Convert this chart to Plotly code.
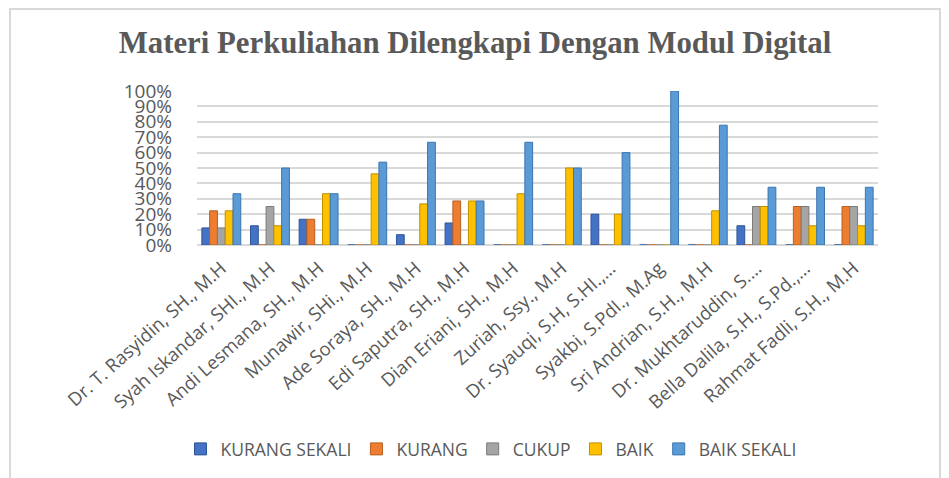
import plotly.graph_objects as go

categories = [
    "Dr. T. Rasyidin, SH., M.H",
    "Syah Iskandar, SHI., M.H",
    "Andi Lesmana, SH., M.H",
    "Munawir, SHi., M.H",
    "Ade Soraya, SH., M.H",
    "Edi Saputra, SH., M.H",
    "Dian Eriani, SH., M.H",
    "Zuriah, Ssy., M.H",
    "Dr. Syauqi, S.H, S.HI.,…",
    "Syakbi, S.PdI., M.Ag",
    "Sri Andrian, S.H., M.H",
    "Dr. Mukhtaruddin, S.…",
    "Bella Dalila, S.H., S.Pd.,…",
    "Rahmat Fadli, S.H., M.H",
]

kurang_sekali = [0.111, 0.125, 0.167, 0.0, 0.067, 0.143, 0.0, 0.0, 0.20, 0.0, 0.0, 0.125, 0.0, 0.0]
kurang        = [0.222, 0.0, 0.167, 0.0, 0.0, 0.286, 0.0, 0.0, 0.0, 0.0, 0.0, 0.0, 0.25, 0.25]
cukup         = [0.111, 0.25, 0.0, 0.0, 0.0, 0.0, 0.0, 0.0, 0.0, 0.0, 0.0, 0.25, 0.25, 0.25]
baik          = [0.222, 0.125, 0.333, 0.462, 0.267, 0.286, 0.333, 0.50, 0.20, 0.0, 0.222, 0.25, 0.125, 0.125]
baik_sekali   = [0.333, 0.50, 0.333, 0.538, 0.667, 0.286, 0.667, 0.50, 0.60, 1.0, 0.778, 0.375, 0.375, 0.375]

series_names = ["KURANG SEKALI", "KURANG", "CUKUP", "BAIK", "BAIK SEKALI"]
series_values = [kurang_sekali, kurang, cukup, baik, baik_sekali]
colors = ["#4472C4", "#ED7D31", "#A5A5A5", "#FFC000", "#5B9BD5"]
edge_colors = ["#2F5597", "#B85F20", "#7B7B7B", "#BF9000", "#3A75B0"]

fig = go.Figure()
for name, vals, c, ec in zip(series_names, series_values, colors, edge_colors):
    fig.add_trace(go.Bar(
        name=name, x=categories, y=vals,
        marker=dict(color=c, line=dict(color=ec, width=1)),
    ))

OFF = 8  # page body margin
W, H = 949, 478
L = 197 - OFF
R = W - (878 - OFF)
T = 91 - OFF
B = H - (245 - OFF)
pw = W - L - R
ph = H - T - B

def px2x(px):
    return (px - OFF - L) / pw

def py2y(py):
    return (H - B - (py - OFF)) / ph

fig.update_layout(
    width=W, height=H,
    margin=dict(l=L, r=R, t=T, b=B),
    paper_bgcolor="white", plot_bgcolor="white",
    barmode="group", bargap=0.2, bargroupgap=0.0,
    title=dict(
        text="<b>Materi Perkuliahan Dilengkapi Dengan Modul Digital</b>",
        x=(475 - OFF) / W, xanchor="center", xref="container",
        y=1 - (42 - OFF) / H, yanchor="middle", yref="container",
        font=dict(family="Liberation Serif", size=30.8, color="#595959"),
    ),
    font=dict(family="Open Sans", color="#595959"),
    showlegend=True,
    legend=dict(
        orientation="h", x=px2x(491), xanchor="center",
        y=py2y(449), yanchor="middle",
        font=dict(size=17.5, color="#595959"),
        itemwidth=30,
    ),
    xaxis=dict(
        tickangle=-42, tickfont=dict(size=18.5, color="#595959"),
        showgrid=False, showline=False, ticks="",
        ticklabelstandoff=8,
    ),
    yaxis=dict(
        range=[0, 1.0], dtick=0.1, tickformat=".0%",
        tickfont=dict(size=19, color="#595959"),
        showgrid=True, gridcolor="#D9D9D9", gridwidth=1.5,
        zeroline=True, zerolinecolor="#D9D9D9", zerolinewidth=1.5,
        showline=False, ticks="", ticklabelstandoff=24,
    ),
)

fig.add_shape(
    type="rect", xref="paper", yref="paper",
    x0=px2x(10), x1=px2x(940), y0=py2y(505), y1=py2y(9),
    line=dict(color="#D9D9D9", width=2), fillcolor="rgba(0,0,0,0)",
    layer="below",
)

fig.write_html("out.html")
